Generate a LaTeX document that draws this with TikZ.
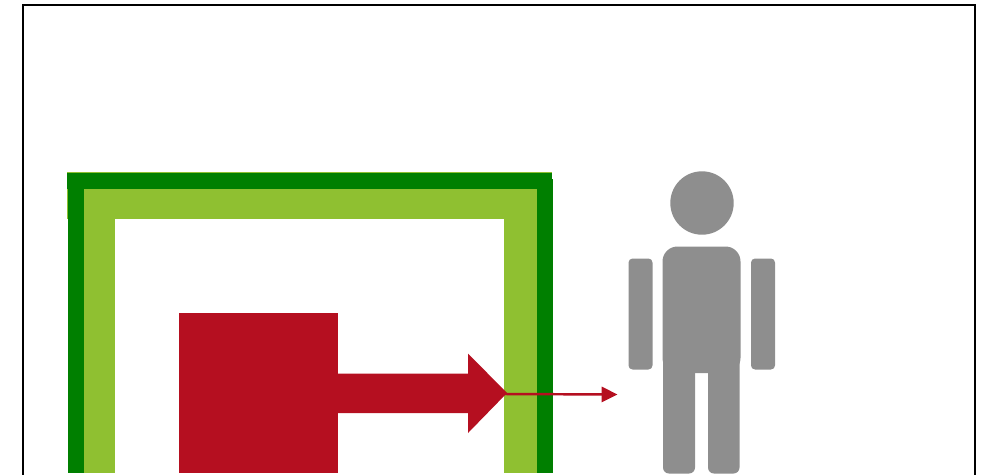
\documentclass[tikz,border=0pt]{standalone}
\usetikzlibrary{arrows.meta}
\definecolor{walldark}{HTML}{007F00}
\definecolor{walllight}{HTML}{8FC031}
\definecolor{sourcered}{HTML}{B50F20}
\definecolor{persongray}{HTML}{8E8E8E}
\tikzset{
    limb/.style={fill=persongray, rounded corners=2.3pt},
    leg/.style={fill=persongray, rounded corners=3.4pt},
    leak/.style={-{Triangle[length=9pt, width=8.6pt]}, line width=1.4pt, sourcered}
}
\begin{document}
\begin{tikzpicture}[x=0.02cm, y=-0.02cm]
    \clip (0,0) rectangle (987,474);

    % 外框
    \draw[line width=1.1pt] (23,4.7) rectangle (975,490);

    % 浅色墙
    \fill[walllight] (67,172) rectangle (552,219);
    \fill[walllight] (67,189) rectangle (115,219);
    \fill[walllight] (84,189) rectangle (115,473);
    \fill[walllight] (504,189) rectangle (537,473);

    % 深色墙
    \fill[walldark] (67,172.7) rectangle (552,189);
    \fill[walldark] (68,172.7) rectangle (84,473);
    \fill[walldark] (537,179) rectangle (553,473);

    % 方块和粗箭头
    \fill[sourcered] (179,313) rectangle (338,472.5);
    \fill[sourcered] (338,373.5) -- (468,373.5) -- (468,353.5) -- (507,393)
        -- (468,433) -- (468,413) -- (338,413) -- cycle;

    % 细箭头
    \coordinate (wall) at (504,394);
    \coordinate (person) at (617.5,394.5);
    \draw[leak] (wall) -- (person);

    % 人
    \fill[persongray] (702,203) circle (31.7);
    \fill[persongray, rounded corners=8.5pt] (662.5,246.5) rectangle (740.5,373);
    \fill[leg] (663,340) rectangle (695,473.5);
    \fill[leg] (708,340) rectangle (739.5,473.5);
    \fill[limb] (628.5,258.5) rectangle (652.5,369.5);
    \fill[limb] (751,258.5) rectangle (775,369.5);
\end{tikzpicture}
\end{document}
